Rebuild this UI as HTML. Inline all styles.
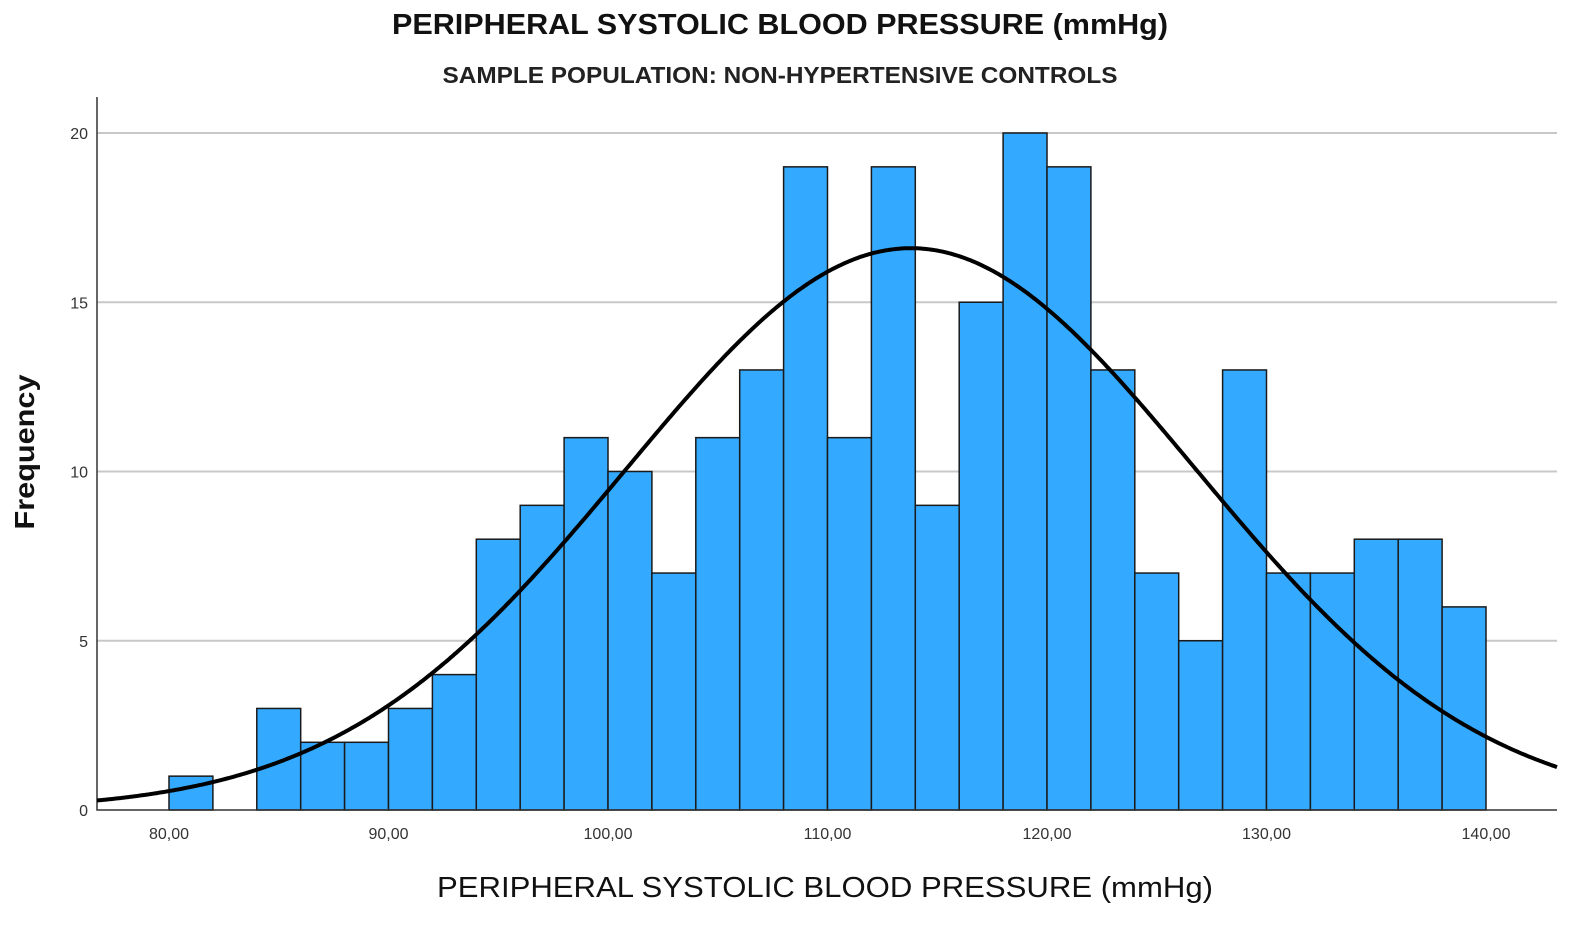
<!DOCTYPE html>
<html><head><meta charset="utf-8"><style>
html,body{margin:0;padding:0;background:#fff;}
svg{display:block;font-family:"Liberation Sans",Arial,sans-serif;}
</style></head><body>
<svg id="chart" width="1595" height="929" viewBox="0 0 1595 929">
<text x="780" y="34" text-anchor="middle" font-size="29" font-weight="bold" fill="#111" textLength="776" lengthAdjust="spacingAndGlyphs">PERIPHERAL SYSTOLIC BLOOD PRESSURE (mmHg)</text>
<text x="780" y="83" text-anchor="middle" font-size="23" font-weight="bold" fill="#222" textLength="675" lengthAdjust="spacingAndGlyphs">SAMPLE POPULATION: NON-HYPERTENSIVE CONTROLS</text>
<text transform="translate(34,452) rotate(-90)" text-anchor="middle" font-size="28" font-weight="bold" fill="#111" textLength="155" lengthAdjust="spacingAndGlyphs">Frequency</text>
<text x="825" y="897" text-anchor="middle" font-size="29" fill="#111" textLength="776" lengthAdjust="spacingAndGlyphs">PERIPHERAL SYSTOLIC BLOOD PRESSURE (mmHg)</text>
<g id="grid"></g><g id="bars"></g><g id="axes"></g><g id="curve"></g>
</svg>
<script>
const binStarts=[80,82,84,86,88,90,92,94,96,98,100,102,104,106,108,110,112,114,116,118,120,122,124,126,128,130,132,134,136,138];
const counts=[1,0,3,2,2,3,4,8,9,11,10,7,11,13,19,11,19,9,15,20,19,13,7,5,13,7,7,8,8,6];
const yTicks=[0,5,10,15,20];
const xTicks=[80,90,100,110,120,130,140];
const xTickLabels=["80,00","90,00","100,00","110,00","120,00","130,00","140,00"];
const binWidth=2, curveMean=113.8, curveSd=12.98;
const NS="http://www.w3.org/2000/svg";
const x=v=>169+(v-80)*21.95;
const y=v=>810-v*33.85;
const X0=97,X1=1557;
function mk(t,a,p){const e=document.createElementNS(NS,t);for(const k in a)e.setAttribute(k,a[k]);p.appendChild(e);return e;}
const grid=document.getElementById('grid'),bars=document.getElementById('bars'),axes=document.getElementById('axes'),cg=document.getElementById('curve');
yTicks.forEach(t=>{
 if(t>0){const l=mk('line',{x1:X0,x2:X1,y1:y(t),y2:y(t),stroke:'#c8c8c8','stroke-width':2},grid);
 
 }
 const tx=mk('text',{x:88,y:y(t)+6,'text-anchor':'end','font-size':16,fill:'#333'},axes);tx.textContent=t;
 
 
});
binStarts.forEach((b,i)=>{if(counts[i]<=0)return;
 const r=mk('rect',{x:x(b),y:y(counts[i]),width:x(b+binWidth)-x(b),height:y(0)-y(counts[i]),fill:'#33aaff',stroke:'#1a1a1a','stroke-width':1.5},bars);
 
 
});
const ax=mk('path',{d:`M${X0},97 V${y(0)} H${X1}`,fill:'none',stroke:'#333','stroke-width':1.5},axes);


xTicks.forEach((t,i)=>{const tx=mk('text',{x:x(t),y:839,'text-anchor':'middle','font-size':16,fill:'#333'},axes);tx.textContent=xTickLabels[i];
 
 });
const N=counts.reduce((a,b)=>a+b,0);
let d='';for(let px=X0;px<=X1;px+=2){const v=80+(px-169)/21.95;const z=(v-curveMean)/curveSd;
 const f=N*binWidth/(curveSd*Math.sqrt(2*Math.PI))*Math.exp(-z*z/2);d+=(d?'L':'M')+px+','+y(f).toFixed(1);}
const c=mk('path',{d:d,fill:'none',stroke:'#000','stroke-width':4},cg);


</script>
</body></html>
